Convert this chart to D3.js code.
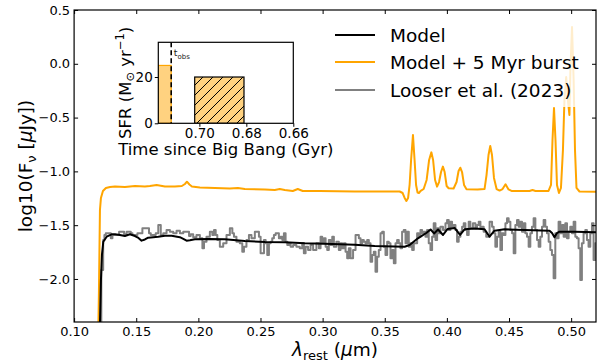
<!DOCTYPE html>
<html><head><meta charset="utf-8">
<script src="https://cdn.jsdelivr.net/npm/d3@7"></script>
<style>body{margin:0;background:#fff} text{font-family:"DejaVu Sans",sans-serif}</style>
</head><body><svg id="c" width="602" height="363"></svg>
<script>
// ---------- data ----------
const xTicks = [0.10,0.15,0.20,0.25,0.30,0.35,0.40,0.45,0.50];
const yTicks = [-2.0,-1.5,-1.0,-0.5,0.0,0.5];
const seriesNames = ["Model","Model + 5 Myr burst","Looser et al. (2023)"];
const seriesColors = ["#000000","#FFA500","#808080"];

// Observed spectrum (Looser et al. 2023) [lambda_rest (um), log10 Fnu]
const obsSpectrum = [
[0.1210,-2.474],[0.1228,-1.916],[0.1240,-1.638],[0.1248,-1.591],[0.1262,-1.575],[0.1289,-1.575],[0.1302,-1.622],[0.1315,-1.591],
[0.1355,-1.591],[0.1369,-1.561],[0.1396,-1.561],[0.1409,-1.585],[0.1436,-1.561],[0.1449,-1.561],[0.1463,-1.575],[0.1476,-1.591],
[0.1503,-1.591],[0.1516,-1.575],[0.1543,-1.575],[0.1556,-1.529],[0.1596,-1.529],[0.1610,-1.575],[0.1624,-1.591],[0.1650,-1.591],
[0.1664,-1.575],[0.1691,-1.498],[0.1704,-1.591],[0.1731,-1.575],[0.1757,-1.545],[0.1785,-1.561],[0.1811,-1.575],[0.1838,-1.551],
[0.1865,-1.575],[0.1892,-1.561],[0.1918,-1.561],[0.1932,-1.601],[0.1945,-1.585],[0.1972,-1.612],[0.1998,-1.591],[0.2026,-1.622],
[0.2039,-1.715],[0.2052,-1.654],[0.2079,-1.607],[0.2106,-1.561],[0.2119,-1.591],[0.2133,-1.545],[0.2146,-1.591],[0.2159,-1.638],
[0.2187,-1.700],[0.2213,-1.668],
[0.2240,-1.591],[0.2267,-1.529],[0.2280,-1.575],[0.2293,-1.607],[0.2320,-1.654],[0.2347,-1.668],[0.2360,-1.746],[0.2374,-1.700],
[0.2400,-1.638],[0.2414,-1.591],[0.2441,-1.622],[0.2468,-1.561],[0.2481,-1.561],[0.2494,-1.607],[0.2508,-1.761],[0.2521,-1.761],
[0.2535,-1.638],[0.2548,-1.668],[0.2561,-1.777],[0.2575,-1.668],[0.2588,-1.654],[0.2601,-1.622],[0.2615,-1.591],[0.2629,-1.575],
[0.2641,-1.575],[0.2655,-1.622],[0.2669,-1.607],[0.2682,-1.638],[0.2695,-1.575],[0.2709,-1.654],[0.2722,-1.684],[0.2736,-1.668],
[0.2749,-1.700],[0.2776,-1.684],[0.2802,-1.700],[0.2830,-1.715],[0.2842,-1.668],[0.2856,-1.761],[0.2870,-1.700],[0.2896,-1.731],
[0.2910,-1.684],[0.2937,-1.731],[0.2963,-1.668],[0.2977,-1.715],[0.2990,-1.607],[0.3003,-1.668],[0.3017,-1.622],[0.3031,-1.700],
[0.3043,-1.731],[0.3057,-1.638],[0.3071,-1.684],[0.3084,-1.607],[0.3097,-1.700],[0.3124,-1.654],[0.3137,-1.731],[0.3151,-1.668],
[0.3164,-1.715],[0.3178,-1.668],[0.3191,-1.746],[0.3204,-1.808],[0.3218,-1.715],[0.3232,-1.808],[0.3258,-1.731],
[0.3272,-1.591],[0.3285,-1.591],[0.3298,-1.622],[0.3312,-1.668],[0.3325,-1.638],[0.3338,-1.654],[0.3352,-1.668],[0.3365,-1.638],
[0.3379,-1.668],[0.3392,-1.839],[0.3405,-1.777],[0.3419,-1.746],[0.3432,-1.932],[0.3445,-1.793],[0.3459,-1.731],[0.3473,-1.575],
[0.3486,-1.561],[0.3499,-1.700],[0.3513,-1.777],[0.3526,-1.654],[0.3539,-1.668],[0.3553,-1.808],[0.3566,-1.731],[0.3580,-1.854],
[0.3593,-1.668],[0.3606,-1.638],[0.3620,-1.668],[0.3633,-1.715],[0.3646,-1.561],[0.3660,-1.545],[0.3674,-1.668],[0.3687,-1.561],
[0.3700,-1.700],[0.3714,-1.668],[0.3727,-1.731],[0.3740,-1.668],[0.3754,-1.668],[0.3767,-1.575],[0.3781,-1.607],[0.3794,-1.545],
[0.3807,-1.575],[0.3821,-1.561],[0.3834,-1.607],[0.3847,-1.545],[0.3861,-1.668],[0.3875,-1.731],[0.3887,-1.607],[0.3901,-1.482],
[0.3915,-1.638],[0.3928,-1.529],[0.3941,-1.575],[0.3955,-1.514],[0.3982,-1.545],[0.3995,-1.482],[0.4008,-1.452],[0.4022,-1.545],
[0.4035,-1.468],[0.4048,-1.514],[0.4062,-1.498],[0.4076,-1.545],[0.4088,-1.654],[0.4102,-1.607],[0.4116,-1.561],[0.4129,-1.514],
[0.4142,-1.482],[0.4156,-1.545],[0.4169,-1.591],[0.4182,-1.468],[0.4196,-1.529],[0.4223,-1.482],[0.4236,-1.529],[0.4249,-1.498],
[0.4263,-1.468],[0.4277,-1.529],[0.4289,-1.514],[0.4303,-1.561],
[0.4330,-1.607],[0.4357,-1.468],[0.4370,-1.514],[0.4383,-1.575],[0.4397,-1.700],[0.4410,-1.607],[0.4424,-1.561],[0.4437,-1.731],
[0.4450,-1.575],[0.4464,-1.591],[0.4478,-1.482],[0.4490,-1.436],[0.4504,-1.468],[0.4518,-1.545],[0.4531,-1.575],[0.4544,-1.761],
[0.4558,-1.498],[0.4571,-1.452],[0.4584,-1.514],[0.4598,-1.468],[0.4611,-1.561],[0.4625,-1.482],[0.4638,-1.575],[0.4651,-1.607],
[0.4665,-1.700],[0.4678,-1.575],[0.4691,-1.514],[0.4705,-1.436],[0.4719,-1.545],[0.4732,-1.638],[0.4745,-1.700],[0.4759,-1.607],
[0.4772,-1.514],[0.4785,-1.452],[0.4799,-1.514],[0.4812,-1.575],[0.4826,-1.654],[0.4839,-1.731],[0.4852,-1.777],[0.4866,-1.994],
[0.4879,-1.575],[0.4892,-1.622],[0.4906,-1.468],[0.4920,-1.575],[0.4933,-1.498],[0.4946,-1.607],[0.4960,-1.482],[0.4973,-1.622],
[0.4986,-1.561],[0.5000,-1.514],[0.5013,-1.575],[0.5027,-1.468],[0.5040,-1.607],[0.5053,-1.622],[0.5067,-1.715],[0.5080,-2.010],
[0.5093,-1.668],[0.5107,-1.575],[0.5121,-1.545],[0.5133,-1.638],[0.5147,-1.700],[0.5161,-1.575],[0.5174,-1.482],[0.5187,-1.824],
[0.5203,-1.668]
];

// Model spectrum
const modelSpectrum = [
[0.1207,-2.474],[0.1216,-2.009],[0.1224,-1.777],[0.1235,-1.654],[0.1262,-1.607],[0.1302,-1.585],[0.1329,-1.585],[0.1369,-1.591],
[0.1409,-1.601],[0.1449,-1.585],[0.1490,-1.601],[0.1518,-1.619],[0.1543,-1.644],[0.1570,-1.633],[0.1596,-1.616],[0.1677,-1.607],
[0.1731,-1.598],[0.1785,-1.598],[0.1851,-1.612],[0.1879,-1.628],[0.1905,-1.644],[0.1932,-1.640],[0.1972,-1.631],[0.2079,-1.628],
[0.2213,-1.631],[0.2374,-1.647],[0.2535,-1.656],[0.2695,-1.659],[0.2856,-1.668],[0.3017,-1.672],[0.3258,-1.681],[0.3419,-1.693],
[0.3660,-1.700],[0.3700,-1.684],[0.3767,-1.622],[0.3834,-1.573],[0.3869,-1.540],[0.3897,-1.577],[0.3929,-1.540],[0.3969,-1.591],
[0.4006,-1.535],[0.4062,-1.526],[0.4106,-1.591],[0.4142,-1.538],[0.4223,-1.531],[0.4303,-1.538],[0.4343,-1.607],[0.4383,-1.551],
[0.4464,-1.538],[0.4625,-1.545],[0.4826,-1.551],[0.4846,-1.573],[0.4866,-1.612],[0.4886,-1.573],[0.4906,-1.561],[0.5027,-1.561],
[0.5203,-1.567]
];

// Model + 5 Myr burst spectrum
const burstSpectrum = [
[0.1195,-2.474],[0.1200,-2.102],[0.1208,-1.359],[0.1216,-1.247],[0.1232,-1.182],[0.1256,-1.154],[0.1289,-1.145],[0.1329,-1.140],
[0.1409,-1.145],[0.1490,-1.136],[0.1570,-1.140],[0.1610,-1.136],[0.1664,-1.126],[0.1731,-1.140],[0.1811,-1.140],[0.1867,-1.136],
[0.1892,-1.117],[0.1908,-1.096],[0.1928,-1.122],[0.1948,-1.140],[0.2012,-1.150],[0.2133,-1.154],[0.2253,-1.159],[0.2318,-1.154],
[0.2374,-1.164],[0.2535,-1.168],[0.2615,-1.173],[0.2655,-1.164],[0.2695,-1.173],[0.2760,-1.182],[0.2800,-1.164],[0.2840,-1.182],
[0.2977,-1.182],[0.3258,-1.187],[0.3459,-1.187],[0.3620,-1.187],[0.3644,-1.201],[0.3660,-1.247],[0.3674,-1.275],[0.3688,-1.247],
[0.3700,-1.126],[0.3712,-0.894],[0.3727,-0.662],[0.3740,-0.894],[0.3752,-1.126],[0.3764,-1.196],[0.3775,-1.201],[0.3789,-1.182],
[0.3813,-1.164],[0.3837,-1.080],[0.3857,-0.894],[0.3875,-0.823],[0.3889,-0.894],[0.3905,-1.080],[0.3921,-1.142],[0.3937,-1.099],
[0.3953,-1.006],[0.3968,-0.956],[0.3982,-1.006],[0.3998,-1.136],[0.4014,-1.157],[0.4054,-1.159],[0.4078,-1.099],[0.4094,-0.996],
[0.4108,-0.966],[0.4122,-1.006],[0.4138,-1.126],[0.4158,-1.166],[0.4247,-1.168],[0.4303,-1.164],[0.4319,-1.034],[0.4335,-0.848],
[0.4349,-0.764],[0.4363,-0.848],[0.4379,-1.061],[0.4400,-1.164],[0.4424,-1.178],[0.4448,-1.164],[0.4472,-1.120],[0.4496,-1.168],
[0.4520,-1.182],[0.4665,-1.182],[0.4689,-1.173],[0.4713,-1.182],[0.4818,-1.182],[0.4838,-1.126],[0.4850,-0.708],[0.4862,-0.411],
[0.4874,-0.708],[0.4886,-1.126],[0.4902,-1.201],[0.4918,-1.154],[0.4934,-0.801],[0.4946,-0.337],[0.4960,-0.123],[0.4974,-0.337],
[0.4986,-0.476],[0.4994,-0.058],[0.5007,0.342],[0.5020,-0.151],[0.5031,-0.801],[0.5043,-1.154],[0.5067,-1.187],[0.5203,-1.189]
];

// Inset: star formation history
const insetXTicks = [0.70,0.68,0.66];
const insetYTicks = [0,20];
const barStart = [0.7175,0.702];   // Gyr
const barEnd   = [0.712,0.681];    // Gyr
const barSFR   = [25,20];          // Msun/yr
const barHatched = [false,true];
const tObs = 0.712;

// ---------- drawing ----------
const svg = d3.select("#c");
const M = {l:74.1, r:596, t:10, b:322};
const x = d3.scaleLinear().domain([0.10,0.52]).range([M.l,M.r]);
const y = d3.scaleLinear().domain([-2.4,0.5]).range([M.b,M.t]);

const defs = svg.append("defs");
defs.append("clipPath").attr("id","clipMain").append("rect")
  .attr("x",M.l).attr("y",M.t).attr("width",M.r-M.l).attr("height",M.b-M.t);

const line = d3.line().x(d=>x(d[0])).y(d=>y(d[1]));
const stepLine = d3.line().x(d=>x(d[0])).y(d=>y(d[1])).curve(d3.curveStep);

const g = svg.append("g").attr("clip-path","url(#clipMain)");
g.append("path").attr("d",stepLine(obsSpectrum)).attr("fill","none")
  .attr("stroke",seriesColors[2]).attr("stroke-width",2).attr("stroke-linejoin","round");
g.append("path").attr("d",line(burstSpectrum)).attr("fill","none")
  .attr("stroke",seriesColors[1]).attr("stroke-width",2).attr("stroke-linejoin","round");
g.append("path").attr("d",line(modelSpectrum)).attr("fill","none")
  .attr("stroke",seriesColors[0]).attr("stroke-width",2).attr("stroke-linejoin","round");

// axes
const fmtX = d3.format(".2f"), fmtY = d3.format(".1f");
const ax = svg.append("g").attr("transform",`translate(0,${M.b})`)
  .call(d3.axisBottom(x).tickValues(xTicks).tickFormat(fmtX).tickSizeInner(-4).tickSizeOuter(0).tickPadding(5));
const ay = svg.append("g").attr("transform",`translate(${M.l},0)`)
  .call(d3.axisLeft(y).tickValues(yTicks).tickFormat(fmtY).tickSizeInner(-4).tickSizeOuter(0).tickPadding(4));
const at = svg.append("g").attr("transform",`translate(0,${M.t})`)
  .call(d3.axisTop(x).tickValues(xTicks).tickFormat("").tickSizeInner(-4).tickSizeOuter(0));
const ar = svg.append("g").attr("transform",`translate(${M.r},0)`)
  .call(d3.axisRight(y).tickValues(yTicks).tickFormat("").tickSizeInner(-4).tickSizeOuter(0));
[ax,ay,at,ar].forEach(a=>{
  a.select(".domain").remove();
  a.selectAll(".tick line").attr("stroke","#000").attr("stroke-width",1);
  a.selectAll("text").attr("font-size",13).attr("font-family","DejaVu Sans").attr("fill","#000");
});
svg.append("rect").attr("x",M.l).attr("y",M.t).attr("width",M.r-M.l).attr("height",M.b-M.t)
  .attr("fill","none").attr("stroke","#000").attr("stroke-width",1.2);

// axis labels
const xl = svg.append("text").attr("x",(M.l+M.r)/2).attr("y",356).attr("text-anchor","middle").attr("font-size",18.5);
xl.append("tspan").attr("font-style","italic").text("λ");
xl.append("tspan").attr("font-size",13).attr("dy",4).text("rest");
xl.append("tspan").attr("dy",-4).text(" (");
xl.append("tspan").attr("font-style","italic").text("μ");
xl.append("tspan").text("m)");

const yl = svg.append("text").attr("transform",`translate(32,${(M.t+M.b)/2}) rotate(-90)`)
  .attr("text-anchor","middle").attr("font-size",18.5);
yl.append("tspan").text("log10(F");
yl.append("tspan").attr("font-size",13).attr("dy",4).text("ν");
yl.append("tspan").attr("dy",-4).text(" [");
yl.append("tspan").attr("font-style","italic").text("μ");
yl.append("tspan").text("Jy])");

// legend
const lg = svg.append("g");
lg.append("rect").attr("x",326).attr("y",16).attr("width",264).attr("height",91)
  .attr("fill","#fff").attr("fill-opacity",0.8).attr("rx",3);
const legY = [35,62,90];
seriesNames.forEach((n,i)=>{
  lg.append("line").attr("x1",335).attr("x2",375).attr("y1",legY[i]).attr("y2",legY[i])
    .attr("stroke",seriesColors[i]).attr("stroke-width",2);
  lg.append("text").attr("x",390).attr("y",legY[i]+6.7).attr("font-size",18.5).text(n);
});

// ---------- inset ----------
const I = {l:158.3, r:293.3, t:42.3, b:123.3};
const xi = d3.scaleLinear().domain([0.7175,0.66]).range([I.l,I.r]);
const yi = d3.scaleLinear().domain([0,35]).range([I.b,I.t]);
defs.append("clipPath").attr("id","clipInset").append("rect")
  .attr("x",I.l).attr("y",I.t).attr("width",I.r-I.l).attr("height",I.b-I.t);
const pat = defs.append("pattern").attr("id","hatch").attr("patternUnits","userSpaceOnUse")
  .attr("width",10).attr("height",10);
pat.append("rect").attr("width",10).attr("height",10).attr("fill","#FFD280");
pat.append("path").attr("d","M-1,1 L1,-1 M0,10 L10,0 M9,11 L11,9").attr("stroke","#000").attr("stroke-width",1);

svg.append("rect").attr("x",I.l).attr("y",I.t).attr("width",I.r-I.l).attr("height",I.b-I.t).attr("fill","#fff");
const gi = svg.append("g").attr("clip-path","url(#clipInset)");
barStart.forEach((s,i)=>{
  gi.append("rect").attr("x",xi(s)).attr("y",yi(barSFR[i]))
    .attr("width",xi(barEnd[i])-xi(s)).attr("height",yi(0)-yi(barSFR[i]))
    .attr("fill",barHatched[i]?"url(#hatch)":"#FFD280")
    .attr("stroke",barHatched[i]?"#000":"#FFA500").attr("stroke-width",1.2);
});
gi.append("line").attr("x1",xi(tObs)).attr("x2",xi(tObs)).attr("y1",I.t).attr("y2",I.b)
  .attr("stroke","#000").attr("stroke-width",1.6).attr("stroke-dasharray","5,3");
const tl = svg.append("text").attr("x",xi(tObs)+2.5).attr("y",56).attr("font-size",9.5).attr("fill","#222");
tl.append("tspan").text("t");
tl.append("tspan").attr("font-size",7).attr("dy",2.5).text("obs");

const aix = svg.append("g").attr("transform",`translate(0,${I.b})`)
  .call(d3.axisBottom(xi).tickValues(insetXTicks).tickFormat(d3.format(".2f")).tickSizeInner(3.5).tickSizeOuter(0).tickPadding(2));
const aiy = svg.append("g").attr("transform",`translate(${I.l},0)`)
  .call(d3.axisLeft(yi).tickValues(insetYTicks).tickFormat(d3.format("d")).tickSizeInner(3.5).tickSizeOuter(0).tickPadding(2));
[aix,aiy].forEach(a=>{
  a.select(".domain").remove();
  a.selectAll(".tick line").attr("stroke","#000");
  a.selectAll("text").attr("font-size",13.5).attr("font-family","DejaVu Sans").attr("fill","#000");
});
svg.append("rect").attr("x",I.l).attr("y",I.t).attr("width",I.r-I.l).attr("height",I.b-I.t)
  .attr("fill","none").attr("stroke","#000").attr("stroke-width",1.2);

svg.append("text").attr("x",(I.l+I.r)/2).attr("y",155).attr("text-anchor","middle").attr("font-size",16.5)
  .text("Time since Big Bang (Gyr)");
const iyl = svg.append("text").attr("transform",`translate(131,${(I.t+I.b)/2}) rotate(-90)`)
  .attr("text-anchor","middle").attr("font-size",16.5);
iyl.append("tspan").text("SFR (M");
iyl.append("tspan").attr("font-size",11.5).attr("dy",3).text("⊙");
iyl.append("tspan").attr("dy",-3).text(" yr");
iyl.append("tspan").attr("font-size",11.5).attr("dy",-7).text("−1");
iyl.append("tspan").attr("dy",7).text(")");
</script></body></html>
